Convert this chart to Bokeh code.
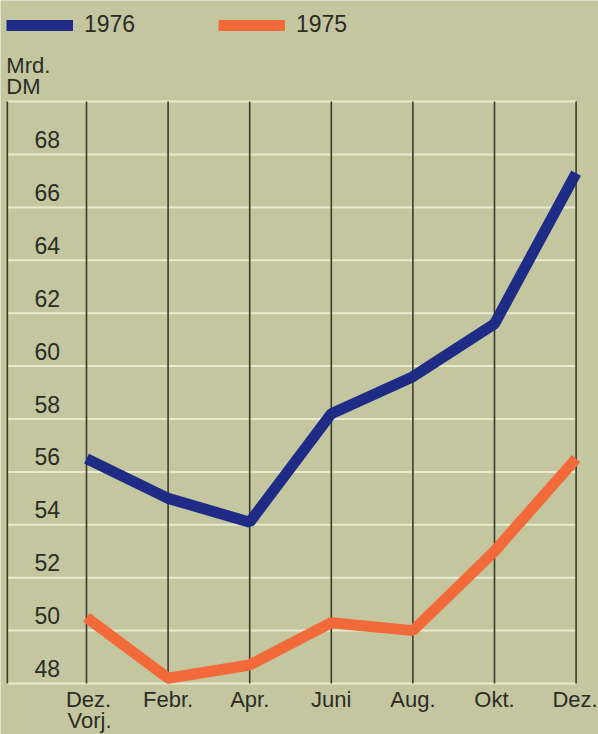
from bokeh.plotting import figure
from bokeh.models import Range1d, Legend, LegendItem, ColumnDataSource
from bokeh.core.properties import value
from bokeh.embed import file_html
from bokeh.resources import INLINE

# Monthly values (Mrd. DM), two-month steps from December of the previous year
months = ["Dez.", "Febr.", "Apr.", "Juni", "Aug.", "Okt.", "Dez."]
values_1976 = [56.5, 55.0, 54.1, 58.2, 59.6, 61.6, 67.3]
values_1975 = [50.5, 48.2, 48.7, 50.3, 50.0, 53.0, 56.5]
y_ticks = [48, 50, 52, 54, 56, 58, 60, 62, 64, 66, 68]
grid_levels = y_ticks + [70]
unit_label = ["Mrd.", "DM"]

BG = "#c3c69f"
GRID = "#e9ebcf"
VLINE = "#3b3d2c"
INK = "#2b2d25"
BLUE = "#1f2c86"
ORANGE = "#f2693a"
FONT = "Liberation Sans"

W, H = 598, 734
# scale: pixels per month step / per Mrd. DM, and where the first month and 48 sit
UX, UY = 81.6, 26.45
PX0, PY48 = 86.0, 683.0
X0, X1 = -PX0 / UX, (W - PX0) / UX
Y0, Y1 = 48 - (H - PY48) / UY, 48 + PY48 / UY
XL = -0.97          # left border line of the chart box
XR = len(months) - 1

p = figure(width=W, height=H, output_backend="svg", toolbar_location=None,
           x_range=Range1d(X0, X1), y_range=Range1d(Y0, Y1),
           min_border=0)
p.background_fill_color = BG
p.border_fill_color = BG
p.outline_line_color = None
p.axis.visible = False
p.grid.visible = False

xs = list(range(len(months)))
ymin, ymax = grid_levels[0], grid_levels[-1]

# light horizontal levels across the chart box
p.segment(x0=[XL] * len(grid_levels), x1=[XR] * len(grid_levels),
          y0=grid_levels, y1=grid_levels, line_color=GRID, line_width=2)
# dark vertical lines: box edge plus one per month
vx = [XL] + xs
p.segment(x0=vx, x1=vx, y0=[ymin] * len(vx), y1=[ymax] * len(vx),
          line_color=VLINE, line_width=1.6)

# value labels just above their levels
p.text(x=[-0.48] * len(y_ticks), y=y_ticks, text=[str(t) for t in y_ticks],
       text_align="center", text_baseline="alphabetic", y_offset=-15,
       text_font_size="23px", text_color=INK, text_font=value(FONT))

# month labels below the box
p.text(x=xs, y=[ymin] * len(xs), text=months, text_align="center",
       text_baseline="alphabetic", y_offset=16, x_offset=[2, 0, 0, 0, 0, 0, -1],
       text_font_size="22px", text_color=INK, text_font=value(FONT))
p.text(x=[0], y=[ymin], text=["Vorj."], text_align="left",
       text_baseline="alphabetic", y_offset=37, x_offset=-19,
       text_font_size="22px", text_color=INK, text_font=value(FONT))

# unit caption above the box
p.text(x=[XL] * 2, y=[ymax] * 2, text=unit_label, text_align="left",
       text_baseline="alphabetic", y_offset=[-36, -15], x_offset=-1,
       text_font_size="22px", text_color=INK, text_font=value(FONT))

src76 = ColumnDataSource(dict(x=xs, y=values_1976))
src75 = ColumnDataSource(dict(x=xs, y=values_1975))
r75 = p.line("x", "y", source=src75, line_color=ORANGE, line_width=11)
r76 = p.line("x", "y", source=src76, line_color=BLUE, line_width=11)

legend = Legend(items=[LegendItem(label="1976", renderers=[r76]),
                       LegendItem(label="1975", renderers=[r75])],
                orientation="horizontal", location=(6, H - 38),
                glyph_width=67, glyph_height=26, label_standoff=11, label_width=56,
                spacing=78, padding=0, margin=0,
                border_line_color=None, background_fill_alpha=0,
                label_text_font=FONT, label_text_font_size="23px", label_text_color=INK,
                label_text_baseline="middle")
p.add_layout(legend)

open("out.html", "w").write(file_html(p, INLINE))
